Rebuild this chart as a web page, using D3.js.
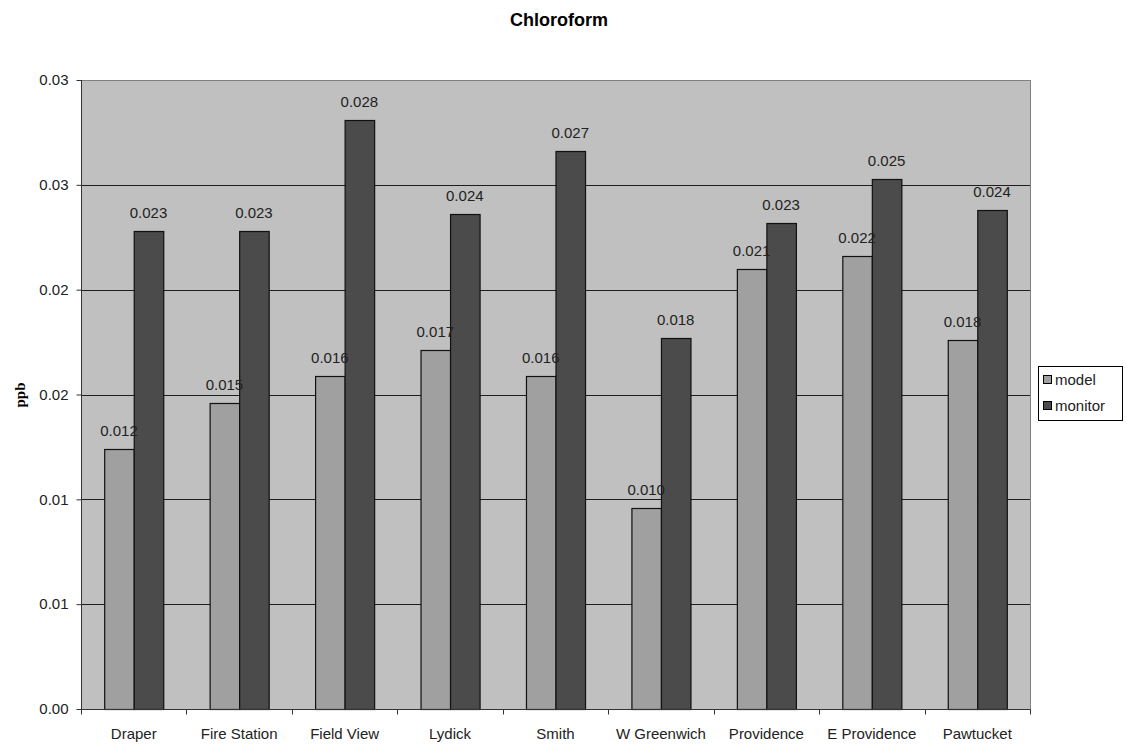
<!DOCTYPE html>
<html>
<head>
<meta charset="utf-8">
<script src="https://cdn.jsdelivr.net/npm/d3@7"></script>
<style>
  html, body { margin: 0; padding: 0; background: #ffffff; }
  svg { display: block; }
</style>
</head>
<body>
<svg id="chart" width="1127" height="745"></svg>
<script>
const categories = ["Draper", "Fire Station", "Field View", "Lydick", "Smith", "W Greenwich", "Providence", "E Providence", "Pawtucket"];
const seriesNames = ["model", "monitor"];
const modelValues = [0.0124, 0.0146, 0.0159, 0.0171, 0.0159, 0.0096, 0.0210, 0.0216, 0.0176];
const monitorValues = [0.0228, 0.0228, 0.0281, 0.0236, 0.0266, 0.0177, 0.0232, 0.0253, 0.0238];
const yTickValues = [0, 0.005, 0.01, 0.015, 0.02, 0.025, 0.03];
const yTickLabels = ["0.00", "0.01", "0.01", "0.02", "0.02", "0.03", "0.03"];
const titleText = "Chloroform";
const yAxisTitle = "ppb";

const colors = { model: "#a0a0a0", monitor: "#4b4b4b" };
const font = "'Liberation Sans', Arial, sans-serif";

const svg = d3.select("#chart");
const pL = 81, pR = 1030, pT = 80, pB = 709;

const x = d3.scaleBand().domain(categories).range([pL, pR]).paddingInner(0.44).paddingOuter(0.22);
const xs = d3.scaleBand().domain(seriesNames).range([0, x.bandwidth()]);
const y = d3.scaleLinear().domain([0, 0.03]).range([pB, pT]);

// plot background
svg.append("rect").attr("x", pL + 0.5).attr("y", pT + 0.5).attr("width", pR - pL).attr("height", pB - pT)
  .attr("fill", "#c0c0c0").attr("stroke", "#808080").attr("stroke-width", 1);

// gridlines
svg.append("g").selectAll("line").data(yTickValues.filter(v => v > 0 && v < 0.03)).join("line")
  .attr("x1", pL).attr("x2", pR)
  .attr("y1", d => Math.round(y(d)) + 0.5).attr("y2", d => Math.round(y(d)) + 0.5)
  .attr("stroke", "#1e1e1e").attr("stroke-width", 1);

// bars
const data = categories.map((c, i) => ({ cat: c, vals: [
  { s: "model", v: modelValues[i] }, { s: "monitor", v: monitorValues[i] }] }));

const groups = svg.append("g").selectAll("g").data(data).join("g")
  .attr("transform", d => `translate(${x(d.cat)},0)`);

groups.selectAll("rect").data(d => d.vals).join("rect")
  .attr("x", d => xs(d.s) + 0.5)
  .attr("y", d => Math.round(y(d.v)) + 0.5)
  .attr("width", xs.bandwidth())
  .attr("height", d => pB - Math.round(y(d.v)))
  .attr("fill", d => colors[d.s])
  .attr("stroke", "#111").attr("stroke-width", 1.2);

groups.selectAll("text").data(d => d.vals).join("text")
  .attr("x", d => xs(d.s) + xs.bandwidth() / 2)
  .attr("y", d => y(d.v) - 13)
  .attr("text-anchor", "middle")
  .attr("font-family", font).attr("font-size", 15).attr("fill", "#222")
  .text(d => d3.format(".3f")(d.v));

// y axis
const yAxis = d3.axisLeft(y).tickValues(yTickValues).tickFormat((d, i) => yTickLabels[i]).tickSize(5).tickPadding(8);
const gy = svg.append("g").attr("transform", `translate(${pL + 0.5},0)`).call(yAxis);
gy.select(".domain").attr("stroke", "#333").attr("d", `M0,${pT}V${pB}`);
gy.selectAll(".tick line").attr("stroke", "#333");
gy.selectAll(".tick text").attr("font-family", font).attr("font-size", 15).attr("fill", "#222");

// x axis
const xAxis = d3.axisBottom(x).tickSize(0).tickPadding(19);
const gx = svg.append("g").attr("transform", `translate(0,${pB + 0.5})`).call(xAxis);
gx.select(".domain").attr("stroke", "#333").attr("d", `M${pL},0H${pR}`);
gx.selectAll(".tick text").attr("font-family", font).attr("font-size", 15).attr("fill", "#222");
// category boundary ticks
const half = (x.step() - x.bandwidth()) / 2;
const bounds = categories.map(c => x(c) - half).concat([x(categories[categories.length - 1]) + x.bandwidth() + half]);
gx.append("g").selectAll("line").data(bounds).join("line")
  .attr("x1", d => Math.round(d) + 0.5).attr("x2", d => Math.round(d) + 0.5)
  .attr("y1", 0).attr("y2", 5).attr("stroke", "#333");

// title
svg.append("text").attr("x", 559).attr("y", 26).attr("text-anchor", "middle")
  .attr("font-family", font).attr("font-weight", "bold").attr("font-size", 18).attr("fill", "#000")
  .text(titleText);

// y axis title
svg.append("text").attr("transform", "translate(25,395) rotate(-90)").attr("text-anchor", "middle")
  .attr("font-family", "'Liberation Serif', 'Times New Roman', serif").attr("font-weight", "bold")
  .attr("font-size", 15).attr("fill", "#000").text(yAxisTitle);

// legend
const lg = svg.append("g");
lg.append("rect").attr("x", 1038.5).attr("y", 366.5).attr("width", 84).attr("height", 54)
  .attr("fill", "#fff").attr("stroke", "#000").attr("stroke-width", 1);
const li = lg.selectAll("g").data(seriesNames).join("g")
  .attr("transform", (d, i) => `translate(1043,${380 + i * 26})`);
li.append("rect").attr("x", 0.5).attr("y", -4.5).attr("width", 8).attr("height", 8)
  .attr("fill", d => colors[d]).attr("stroke", "#000");
li.append("text").attr("x", 12).attr("y", 5).attr("font-family", font).attr("font-size", 15).attr("fill", "#222")
  .text(d => d);
</script>
</body>
</html>
